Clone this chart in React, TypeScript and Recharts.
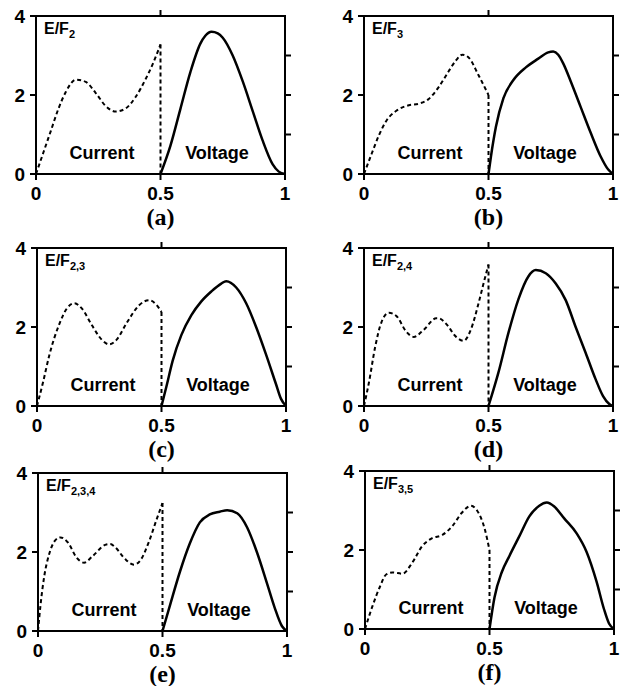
import React from 'react';
import { LineChart, Line, XAxis, YAxis, ReferenceLine, ReferenceArea } from 'recharts';

// panel (a) E/F2
const A_CUR_X = [0, 0.03, 0.06, 0.09, 0.12, 0.16, 0.2, 0.24, 0.28, 0.32, 0.36, 0.4, 0.44, 0.47, 0.5];
const A_CUR_Y = [0, 0.55, 1.1, 1.65, 2.08, 2.39, 2.33, 2.05, 1.72, 1.58, 1.66, 1.95, 2.4, 2.8, 3.28];
const A_VOL_X = [0.5, 0.54, 0.58, 0.62, 0.66, 0.68, 0.705, 0.73, 0.75, 0.79, 0.83, 0.87, 0.91, 0.95, 0.975, 1];
const A_VOL_Y = [0, 0.72, 1.65, 2.58, 3.3, 3.5, 3.6, 3.56, 3.45, 3.0, 2.35, 1.6, 0.85, 0.25, 0.06, 0];

// panel (b) E/F3
const B_CUR_X = [0, 0.03, 0.06, 0.09, 0.13, 0.18, 0.22, 0.26, 0.3, 0.34, 0.37, 0.395, 0.42, 0.46, 0.5];
const B_CUR_Y = [0, 0.5, 0.98, 1.35, 1.6, 1.74, 1.78, 1.9, 2.2, 2.6, 2.88, 3.02, 2.95, 2.5, 2.0];
const B_VOL_X = [0.5, 0.51, 0.53, 0.56, 0.6, 0.65, 0.7, 0.74, 0.76, 0.78, 0.8, 0.83, 0.87, 0.91, 0.95, 0.98, 1];
const B_VOL_Y = [0, 0.45, 1.2, 1.92, 2.38, 2.7, 2.92, 3.08, 3.1, 3.02, 2.8, 2.35, 1.7, 1.05, 0.45, 0.12, 0];

// panel (c) E/F2,3
const C_CUR_X = [0, 0.025, 0.05, 0.09, 0.12, 0.15, 0.18, 0.22, 0.26, 0.29, 0.32, 0.36, 0.41, 0.45, 0.48, 0.5];
const C_CUR_Y = [0, 0.62, 1.3, 2.08, 2.47, 2.6, 2.47, 2.05, 1.68, 1.56, 1.68, 2.1, 2.55, 2.68, 2.56, 2.38];
const C_VOL_X = [0.5, 0.52, 0.545, 0.58, 0.62, 0.66, 0.7, 0.74, 0.76, 0.8, 0.84, 0.88, 0.92, 0.96, 0.98, 1];
const C_VOL_Y = [0, 0.5, 1.15, 1.8, 2.3, 2.65, 2.9, 3.1, 3.16, 3.0, 2.6, 2.0, 1.3, 0.55, 0.18, 0];

// panel (d) E/F2,4
const D_CUR_X = [0, 0.02, 0.045, 0.07, 0.1, 0.13, 0.17, 0.2, 0.24, 0.29, 0.3, 0.33, 0.37, 0.4, 0.43, 0.46, 0.48, 0.5];
const D_CUR_Y = [0, 0.6, 1.5, 2.12, 2.36, 2.28, 1.88, 1.75, 1.93, 2.22, 2.22, 2.08, 1.75, 1.65, 1.95, 2.6, 3.1, 3.58];
const D_VOL_X = [0.5, 0.54, 0.58, 0.62, 0.66, 0.69, 0.73, 0.77, 0.81, 0.85, 0.89, 0.93, 0.96, 0.985, 1];
const D_VOL_Y = [0, 0.85, 1.85, 2.7, 3.28, 3.44, 3.36, 3.1, 2.68, 2.0, 1.35, 0.68, 0.25, 0.05, 0];

// panel (e) E/F2,3,4
const E_CUR_X = [0, 0.01, 0.025, 0.045, 0.07, 0.09, 0.12, 0.155, 0.185, 0.22, 0.27, 0.29, 0.31, 0.35, 0.385, 0.41, 0.445, 0.475, 0.5];
const E_CUR_Y = [0, 0.65, 1.38, 1.95, 2.3, 2.37, 2.24, 1.86, 1.73, 1.9, 2.18, 2.2, 2.12, 1.82, 1.68, 1.78, 2.25, 2.8, 3.24];
const E_VOL_X = [0.5, 0.53, 0.57, 0.61, 0.65, 0.69, 0.73, 0.76, 0.8, 0.84, 0.88, 0.92, 0.95, 0.98, 1];
const E_VOL_Y = [0, 0.65, 1.5, 2.22, 2.75, 2.95, 3.02, 3.06, 2.98, 2.62, 1.98, 1.2, 0.6, 0.12, 0];

// panel (f) E/F3,5
const F_CUR_X = [0, 0.03, 0.06, 0.085, 0.11, 0.15, 0.19, 0.23, 0.27, 0.31, 0.35, 0.39, 0.425, 0.45, 0.48, 0.5];
const F_CUR_Y = [0, 0.58, 1.07, 1.38, 1.43, 1.4, 1.68, 2.1, 2.3, 2.38, 2.6, 2.95, 3.12, 3.0, 2.55, 2.0];
const F_VOL_X = [0.5, 0.52, 0.55, 0.58, 0.62, 0.66, 0.7, 0.73, 0.76, 0.8, 0.85, 0.89, 0.93, 0.96, 0.98, 1];
const F_VOL_Y = [0, 0.8, 1.45, 1.85, 2.35, 2.85, 3.12, 3.2, 3.1, 2.8, 2.42, 1.95, 1.2, 0.5, 0.14, 0];

const X_TICKS = [0, 0.5, 1];
const TOP_TICKS = [0.5];
const Y_TICKS = [0, 2, 4];
const RIGHT_TICKS = [1, 2, 3];
const X_MAX = 1;
const Y_MAX = 4;

const zip = (xs: number[], ys: number[]) => xs.map((x, i) => ({ x, y: ys[i] }));

const SANS = '"Liberation Sans", Arial, sans-serif';
const PLOT_W = 249;
const PLOT_H = 158;
const PAD_L = 40;
const PAD_T = 14;
const TICK_LEN = 6;
// outward tick length in data units
const TICK_DX = (TICK_LEN / PLOT_W) * X_MAX;
const TICK_DY = (TICK_LEN / PLOT_H) * Y_MAX;

interface PanelProps {
  left: number;
  top: number;
  sub: string;
  caption: string;
  curX: number[];
  curY: number[];
  volX: number[];
  volY: number[];
}

const tickStyle = { fontSize: 19, fontWeight: 'bold', fill: '#000', fontFamily: SANS };
const axisStyle = { stroke: '#000', strokeWidth: 2 };
const textStyle = { fontFamily: SANS, fontWeight: 'bold' as const, fontSize: 18, lineHeight: '20px' };

const Panel = ({ left, top, sub, caption, curX, curY, volX, volY }: PanelProps) => {
  const current = zip(curX, curY);
  const voltage = zip(volX, volY);
  const last = current[current.length - 1];
  const drop = [last, { x: last.x, y: 0 }];

  return (
    <>
      <div style={{ position: 'absolute', left: left - PAD_L, top: top - PAD_T }}>
        <LineChart width={PAD_L + PLOT_W + 10} height={PAD_T + PLOT_H + 30} margin={{ top: PAD_T, right: 10, bottom: 0, left: 0 }}>
          <XAxis
            dataKey="x"
            type="number"
            domain={[0, X_MAX]}
            ticks={X_TICKS}
            height={30}
            tickSize={TICK_LEN}
            tickMargin={7}
            tick={tickStyle}
            axisLine={axisStyle}
            tickLine={axisStyle}
          />
          <YAxis
            type="number"
            domain={[0, Y_MAX]}
            ticks={Y_TICKS}
            width={PAD_L}
            tickSize={TICK_LEN}
            tickMargin={5}
            tick={tickStyle}
            axisLine={axisStyle}
            tickLine={axisStyle}
          />
          <ReferenceArea x1={0} x2={X_MAX} y1={0} y2={Y_MAX} fill="none" stroke="#000" strokeWidth={2} ifOverflow="visible" />
          {/* outward ticks on the top and right edges */}
          {TOP_TICKS.map((t) => (
            <ReferenceLine key={`t${t}`} segment={[{ x: t, y: Y_MAX }, { x: t, y: Y_MAX + TICK_DY }]} stroke="#000" strokeWidth={2} ifOverflow="visible" />
          ))}
          {RIGHT_TICKS.map((t) => (
            <ReferenceLine key={`r${t}`} segment={[{ x: X_MAX, y: t }, { x: X_MAX + TICK_DX, y: t }]} stroke="#000" strokeWidth={2} ifOverflow="visible" />
          ))}
          <Line data={current} dataKey="y" type="monotone" stroke="#000" strokeWidth={2} strokeDasharray="4 3" dot={false} isAnimationActive={false} />
          <Line data={drop} dataKey="y" type="linear" stroke="#000" strokeWidth={2} strokeDasharray="4 3" dot={false} isAnimationActive={false} />
          <Line data={voltage} dataKey="y" type="monotone" stroke="#000" strokeWidth={2.5} dot={false} isAnimationActive={false} />
        </LineChart>
      </div>

      {/* top and right edges of the frame */}
      <div
        style={{
          position: 'absolute',
          zIndex: 5,
          left: left - 1,
          top: top - 1,
          width: PLOT_W + 2,
          height: PLOT_H + 2,
          boxSizing: 'border-box',
          borderStyle: 'solid',
          borderColor: '#000',
          borderWidth: '2px 2px 0 0',
          pointerEvents: 'none',
        }}
      />

      <div style={{ position: 'absolute', left: left + 8, top: top + 4, fontFamily: SANS, fontWeight: 'bold', fontSize: 16, lineHeight: '18px', whiteSpace: 'nowrap' }}>
        E/F<sub style={{ fontSize: 11, verticalAlign: '-4px' }}>{sub}</sub>
      </div>
      <div style={{ ...textStyle, position: 'absolute', left: left + 66 - 40, top: top + 137 - 10, width: 80, textAlign: 'center' }}>
        Current
      </div>
      <div style={{ ...textStyle, position: 'absolute', left: left + 181 - 40, top: top + 137 - 10, width: 80, textAlign: 'center' }}>
        Voltage
      </div>
      <div style={{ position: 'absolute', left: left + PLOT_W / 2 - 30, top: top + 201 - 13, width: 60, textAlign: 'center', fontFamily: '"Liberation Serif", "Times New Roman", serif', fontWeight: 'bold', fontSize: 24, lineHeight: '26px' }}>
        {caption}
      </div>
    </>
  );
};

export default function App() {
  return (
    <div style={{ position: 'absolute', left: 0, top: 0, width: 621, height: 686, background: '#fff', overflow: 'hidden' }}>
      <Panel left={36} top={16} sub="2" caption="(a)" curX={A_CUR_X} curY={A_CUR_Y} volX={A_VOL_X} volY={A_VOL_Y} />
      <Panel left={364} top={16} sub="3" caption="(b)" curX={B_CUR_X} curY={B_CUR_Y} volX={B_VOL_X} volY={B_VOL_Y} />
      <Panel left={37} top={248} sub="2,3" caption="(c)" curX={C_CUR_X} curY={C_CUR_Y} volX={C_VOL_X} volY={C_VOL_Y} />
      <Panel left={364} top={248} sub="2,4" caption="(d)" curX={D_CUR_X} curY={D_CUR_Y} volX={D_VOL_X} volY={D_VOL_Y} />
      <Panel left={38} top={473} sub="2,3,4" caption="(e)" curX={E_CUR_X} curY={E_CUR_Y} volX={E_VOL_X} volY={E_VOL_Y} />
      <Panel left={365} top={471} sub="3,5" caption="(f)" curX={F_CUR_X} curY={F_CUR_Y} volX={F_VOL_X} volY={F_VOL_Y} />
    </div>
  );
}
